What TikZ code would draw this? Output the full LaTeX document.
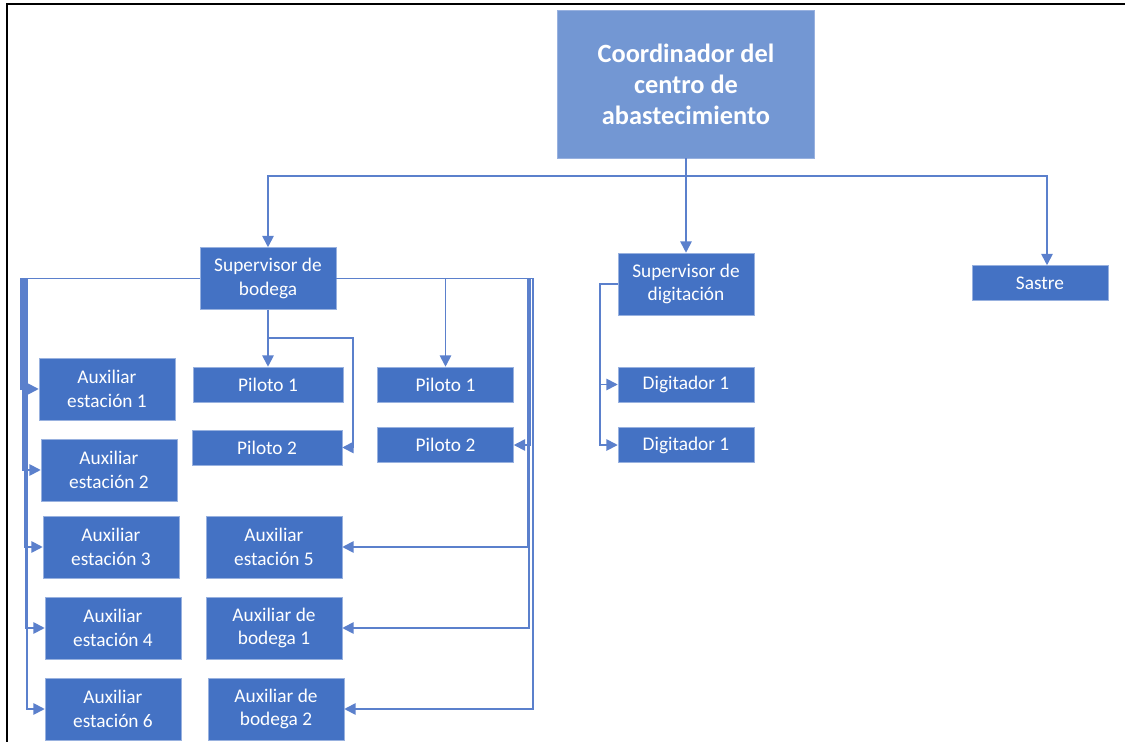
\documentclass[tikz,border=0pt]{standalone}
\usepackage{fontspec}
\setmainfont{Carlito}
\usetikzlibrary{positioning,arrows.meta}
\definecolor{boxblue}{HTML}{4472C4}
\definecolor{topblue}{HTML}{7397D3}
\definecolor{linkblue}{HTML}{5B80CC}

\begin{document}
\begin{tikzpicture}[x=0.02cm, y=-0.02cm, every node/.style={font=\fontsize{11}{13.4}\selectfont, text=white},
    cargo/.style={fill=boxblue, draw=boxblue!55, line width=0.3pt, align=center, inner sep=0pt, minimum width=2.72cm, minimum height=1.24cm},
    cargocorto/.style={cargo, minimum height=0.7cm},
    link/.style={draw=linkblue, line width=1pt, -{Triangle[length=6.5pt,width=6.5pt]}}]
    \useasboundingbox (0,0) rectangle (1125,742);
    \draw[line width=1.6pt] (7,742) -- (7,4) -- (1125,4);

    \node[cargo, fill=topblue, minimum width=5.14cm, minimum height=2.96cm, font=\bfseries\fontsize{15}{17.6}\selectfont] (jefe) at (686,84) {Coordinador del\\centro de\\abastecimiento};
    \node[cargo] (supb) at (268,278.5) {Supervisor de\\bodega};
    \node[cargo] (supd) at (686,284) {Supervisor de\\digitación};
    \node[cargocorto] (sastre) at (1040,283) {Sastre};

    % bodega, columna izquierda
    \node[cargo] (aux1) at (107,389) {Auxiliar\\estación 1};
    \node[cargo] (aux2) at (109,470) {Auxiliar\\estación 2};
    \node[cargo] (aux3) at (111,547) {Auxiliar\\estación 3};
    \node[cargo] (aux4) at (113,628) {Auxiliar\\estación 4};
    \node[cargo] (aux6) at (113,709) {Auxiliar\\estación 6};

    % bodega, columna central
    \node[cargocorto, minimum width=3cm] (pil1) at (268,384.5) {Piloto 1};
    \node[cargocorto, minimum width=3cm] (pil2) at (267,447.5) {Piloto 2};
    \node[cargo] (aux5) at (274,547) {Auxiliar\\estación 5};
    \node[cargo] (bod1) at (274,628) {Auxiliar de\\bodega 1};
    \node[cargo] (bod2) at (276,709) {Auxiliar de\\bodega 2};

    % bodega, columna derecha
    \node[cargocorto] (pilb1) at (445.5,384.5) {Piloto 1};
    \node[cargocorto, below=0.5cm of pilb1] (pilb2) {Piloto 2};

    % digitacion
    \node[cargocorto] (dig1) at (686,384.5) {Digitador 1};
    \node[cargocorto, below=0.5cm of dig1] (dig2) {Digitador 1};

    \coordinate (bus) at (686,176);
    \draw[link] (jefe) -- (supd);
    \draw[link] (bus) -| (supb);
    \draw[link] (bus) -| ([xshift=0.14cm]sastre.north);

    \draw[link] (supb.west) -- ++(-179,0) |- (aux1);
    \draw[link] (supb.west) -- ++(-177,0) |- (aux2);
    \draw[link] (supb.west) -- ++(-175,0) |- (aux3);
    \draw[link] (supb.west) -- ++(-174,0) |- (aux4);
    \draw[link] (supb.west) -- ++(-173,0) |- (aux6);

    \draw[link] (supb) -- (pil1);
    \draw[link] (supb.south) -- ++(0,28) -- ++(85,0) |- (pil2);

    \draw[link] (supb.east) -| (pilb1);
    \draw[link] (supb.east) -- ++(194,0) |- (pilb2);
    \draw[link] (supb.east) -- ++(192,0) |- (aux5);
    \draw[link] (supb.east) -- ++(193,0) |- (bod1);
    \draw[link] (supb.east) -- ++(197,0) |- (bod2);

    \draw[link] (supd.west) -- ++(-18,0) |- (dig1);
    \draw[link] (supd.west) -- ++(-18,0) |- (dig2);
\end{tikzpicture}
\end{document}
